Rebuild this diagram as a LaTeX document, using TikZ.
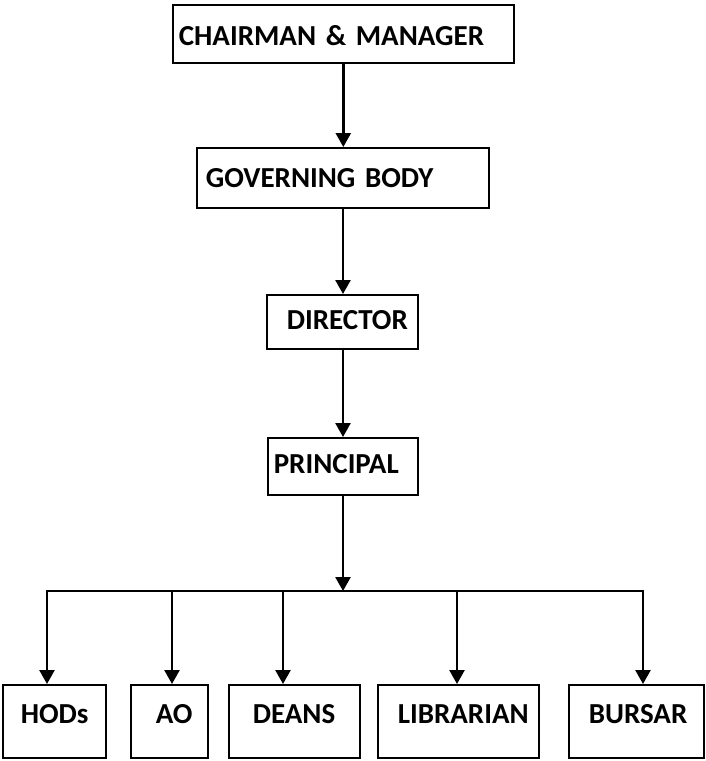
\documentclass[tikz,border=0pt]{standalone}
\usepackage{fontspec}
\newfontfamily\orgfamily{Carlito}
\usetikzlibrary{arrows.meta}
\newcommand\orgfont{\orgfamily\bfseries\fontsize{29}{30}\selectfont}
\tikzset{
  orgbox/.style={draw, line width=1.6pt, rectangle, anchor=north west, align=left,
    inner ysep=0pt, font=\orgfont},
  link/.style={line width=2.6pt},
  arr/.style={link, -{Triangle[width=15pt,length=14pt]}}
}
\begin{document}
\begin{tikzpicture}[x=1pt,y=-1pt]
\useasboundingbox (0,0) rectangle (705,761);
% boxes
\node[orgbox, minimum width=341pt, minimum height=58pt, text width=329pt, inner xsep=6pt,
  text height=24pt, text depth=0pt] (chair) at (172,4) {CHAIRMAN \& MANAGER};
\node[orgbox, minimum width=292pt, minimum height=60pt, text width=274pt, inner xsep=9pt,
  text height=20pt, text depth=0pt] (gov) at (196,147) {GOVERNING BODY};
\node[orgbox, minimum width=151pt, minimum height=54pt, text width=111pt, inner xsep=20pt,
  text height=18pt, text depth=2pt] (dir) at (266,294) {DIRECTOR};
\node[orgbox, minimum width=150pt, minimum height=57pt, text width=138pt, inner xsep=6pt,
  text height=18pt, text depth=3pt] (prin) at (267,437) {PRINCIPAL};
\node[orgbox, minimum width=103pt, minimum height=73pt, text width=67pt, inner xsep=18pt,
  text height=18pt, text depth=13pt] (hods) at (2,684) {HODs};
\node[orgbox, minimum width=77pt, minimum height=73pt, text width=27pt, inner xsep=25pt,
  text height=18pt, text depth=13pt] (ao) at (130,684) {AO};
\node[orgbox, minimum width=131pt, minimum height=73pt, text width=83pt, inner xsep=24pt,
  text height=18pt, text depth=13pt] (deans) at (228,684) {DEANS};
\node[orgbox, minimum width=161pt, minimum height=73pt, text width=121pt, inner xsep=20pt,
  text height=18pt, text depth=13pt] (lib) at (377,684) {LIBRARIAN};
\node[orgbox, minimum width=135pt, minimum height=73pt, text width=95pt, inner xsep=20pt,
  text height=18pt, text depth=13pt] (bursar) at (568,684) {BURSAR};
% vertical chain
\draw[arr] (chair.south) -- (chair.south |- gov.north);
\draw[arr] (gov.south -| 343,0) -- (dir.north -| 343,0);
\draw[arr] (dir.south -| 343,0) -- (prin.north -| 343,0);
\coordinate (bar) at (343,591);
\draw[arr] (prin.south -| bar) -- (bar);
% distribution bar
\coordinate (dh) at (47,591);
\coordinate (da) at (172,591);
\coordinate (dd) at (283,591);
\coordinate (dl) at (457,591);
\coordinate (db) at (643,591);
\draw[link, line cap=rect] (dh) -- (db);
\draw[arr] (dh) -- (dh |- hods.north);
\draw[arr] (da) -- (da |- ao.north);
\draw[arr] (dd) -- (dd |- deans.north);
\draw[arr] (dl) -- (dl |- lib.north);
\draw[arr] (db) -- (db |- bursar.north);
\end{tikzpicture}
\end{document}
